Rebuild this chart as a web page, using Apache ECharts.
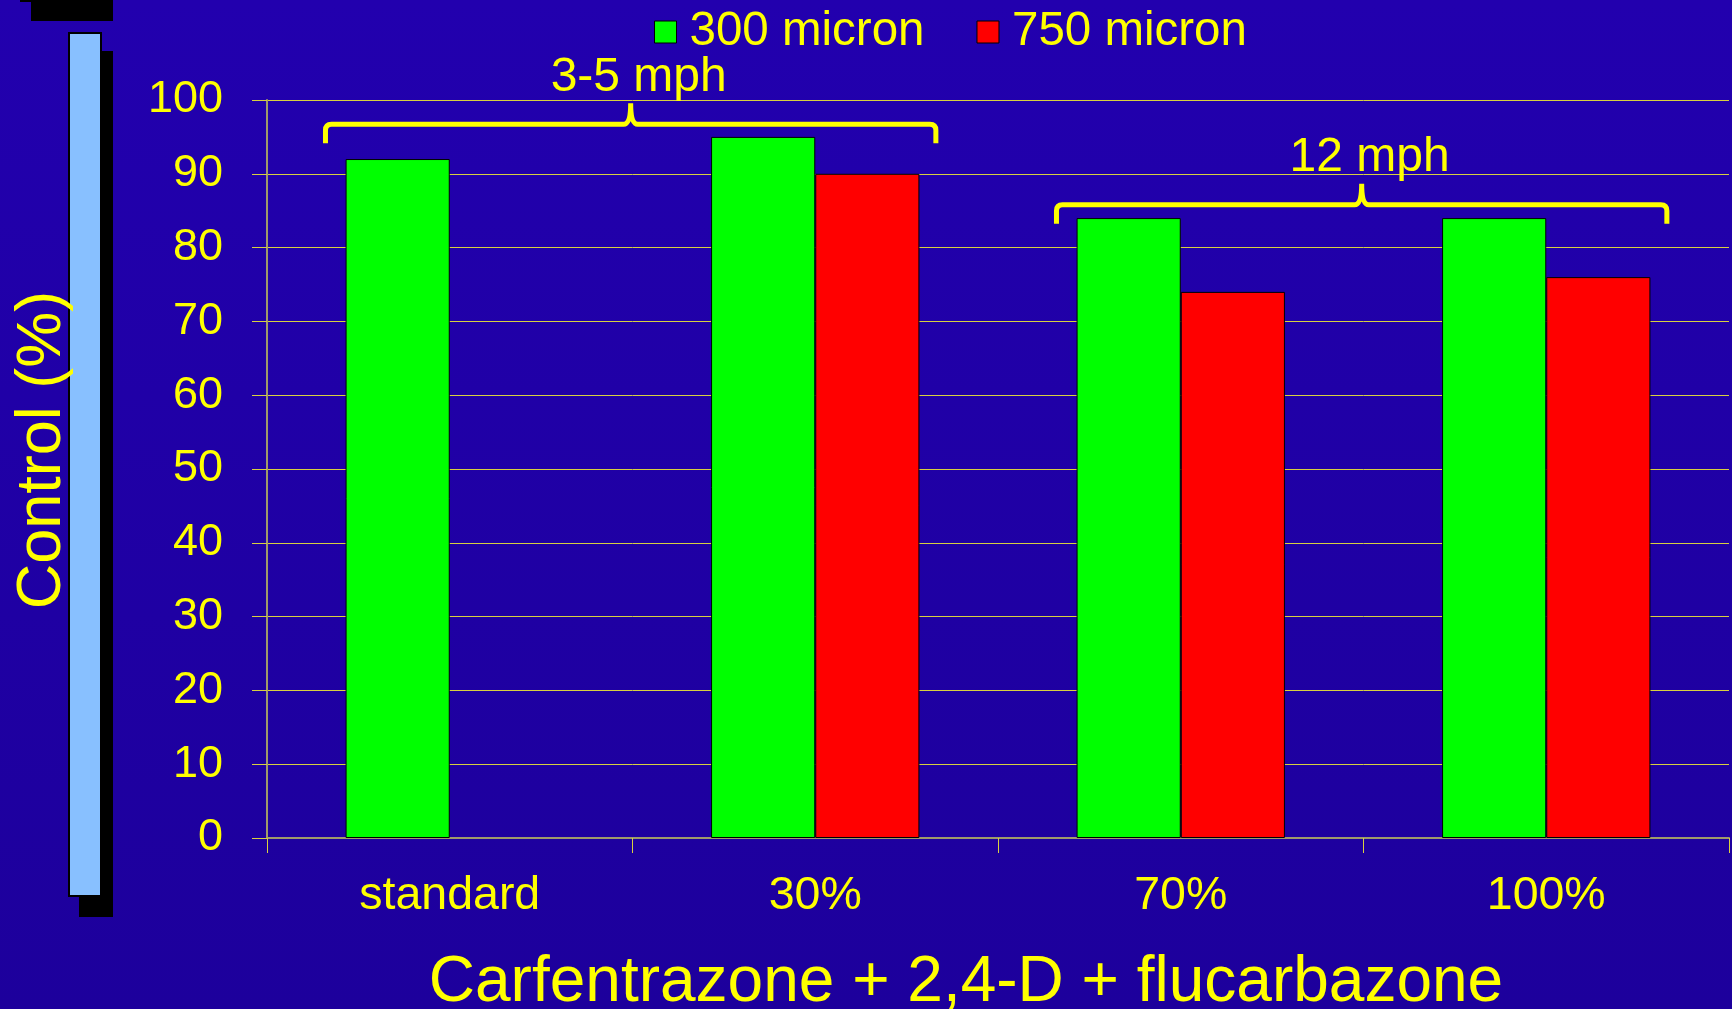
<!DOCTYPE html>
<html>
<head>
<meta charset="utf-8">
<style>
html,body{margin:0;padding:0;width:1732px;height:1009px;overflow:hidden;background:linear-gradient(#2200AE,#1D009C);}
#c{width:1732px;height:1009px;}
</style>
<script src="https://cdn.jsdelivr.net/npm/echarts@6/dist/echarts.min.js"></script>
</head>
<body>
<div id="c"></div>
<script>
// ---- data ----
var categories = ['standard', '30%', '70%', '100%'];
var seriesNames = ['300 micron', '750 micron'];
var values300 = [92, 95, 84, 84];
var values750 = [null, 90, 74, 76];
var yTicks = [0, 100, 10]; // min, max, interval
var braceLabels = ['3-5 mph', '12 mph'];
var braceStart = [0, 2];
var braceEnd = [1, 3];
var braceLevel = [96.7, 85.8];

var FONT = "'Liberation Sans', Arial, sans-serif";
var YEL = '#FFFF00';
var GRID = '#D8D040';
var AXIS = '#A09A6A';

var chart = echarts.init(document.getElementById('c'), null, {renderer: 'canvas'});

var braceData = braceLabels.map(function (l, i) {
  return [braceStart[i], braceLevel[i], braceEnd[i], l];
});

var option = {
  backgroundColor: 'transparent',
  animation: false,
  textStyle: {fontFamily: FONT},
  grid: {left: 267, right: 3, top: 100, bottom: 171, containLabel: false, outerBoundsMode: 'none'},
  legend: {
    data: seriesNames,
    left: 649, top: 3,
    itemWidth: 22, itemHeight: 22, itemGap: 52,
    icon: 'rect',
    itemStyle: {borderColor: '#000', borderWidth: 1},
    textStyle: {color: YEL, fontSize: 47.5, fontFamily: FONT, padding: [0, 0, 0, 8]}
  },
  xAxis: {
    type: 'category',
    data: categories,
    axisLine: {lineStyle: {color: AXIS, width: 2}},
    axisTick: {show: true, length: 15, lineStyle: {color: GRID, width: 1}},
    axisLabel: {color: YEL, fontSize: 46.5, fontFamily: FONT, margin: 35},
    name: 'Carfentrazone + 2,4-D + flucarbazone',
    nameLocation: 'middle',
    nameGap: 113,
    nameTextStyle: {color: YEL, fontSize: 64, fontFamily: FONT, padding: [0, 64, 0, 0]}
  },
  yAxis: {
    type: 'value',
    min: yTicks[0], max: yTicks[1], interval: yTicks[2],
    axisLine: {show: true, lineStyle: {color: AXIS, width: 2}},
    axisTick: {show: true, length: 15, lineStyle: {color: GRID, width: 1}},
    splitLine: {show: true, lineStyle: {color: GRID, width: 1}},
    axisLabel: {color: YEL, fontSize: 45, fontFamily: FONT, margin: 44},
    name: 'Control (%)',
    nameLocation: 'middle',
    nameRotate: 90,
    nameGap: 193,
    nameTextStyle: {color: YEL, fontSize: 63, fontFamily: FONT, padding: [0, 0, 0, 38]}
  },
  series: [
    {
      name: seriesNames[0], type: 'bar', data: values300,
      barWidth: '28.5%', barGap: '0%',
      itemStyle: {color: '#00FF00', borderColor: '#000', borderWidth: 1}
    },
    {
      name: seriesNames[1], type: 'bar', data: values750,
      barWidth: '28.5%', barGap: '0%',
      itemStyle: {color: '#FF0000', borderColor: '#000', borderWidth: 1}
    },
    {
      type: 'custom',
      clip: false,
      silent: true,
      data: braceData,
      encode: {x: 0, y: 1},
      renderItem: function (params, api) {
        var p0 = api.coord([api.value(0), api.value(1)]);
        var p1 = api.coord([api.value(2), api.value(1)]);
        var band = api.size([1, 0])[0];
        var L = p0[0] - 0.34 * band;
        var R = p1[0] + 0.33 * band;
        var y = p0[1];
        var C = (L + R) / 2;
        var d = 'M' + L + ',' + (y + 19) +
          ' L' + L + ',' + (y + 6) +
          ' Q' + L + ',' + y + ' ' + (L + 6) + ',' + y +
          ' L' + (C - 7) + ',' + y +
          ' Q' + C + ',' + y + ' ' + C + ',' + (y - 21) +
          ' Q' + C + ',' + y + ' ' + (C + 7) + ',' + y +
          ' L' + (R - 6) + ',' + y +
          ' Q' + R + ',' + y + ' ' + R + ',' + (y + 6) +
          ' L' + R + ',' + (y + 19);
        return {
          type: 'group',
          children: [
            {type: 'path', shape: {pathData: d}, style: {stroke: YEL, lineWidth: 5, fill: null}},
            {type: 'text', style: {text: api.value(3), x: C + 8, y: y - 47, fill: YEL,
              font: '48px ' + FONT, textAlign: 'center', textVerticalAlign: 'middle'}}
          ]
        };
      }
    }
  ],
  graphic: [
    {type: 'rect', shape: {x: 20, y: 0, width: 93, height: 2}, style: {fill: '#000'}},
    {type: 'rect', shape: {x: 31, y: 0, width: 82, height: 21}, style: {fill: '#000'}},
    {type: 'rect', shape: {x: 79, y: 51, width: 34, height: 866}, style: {fill: '#000'}},
    {type: 'rect', shape: {x: 69, y: 33, width: 32, height: 863}, style: {fill: '#88C0FF', stroke: '#000', lineWidth: 2}}
  ]
};
chart.setOption(option);
</script>
</body>
</html>
